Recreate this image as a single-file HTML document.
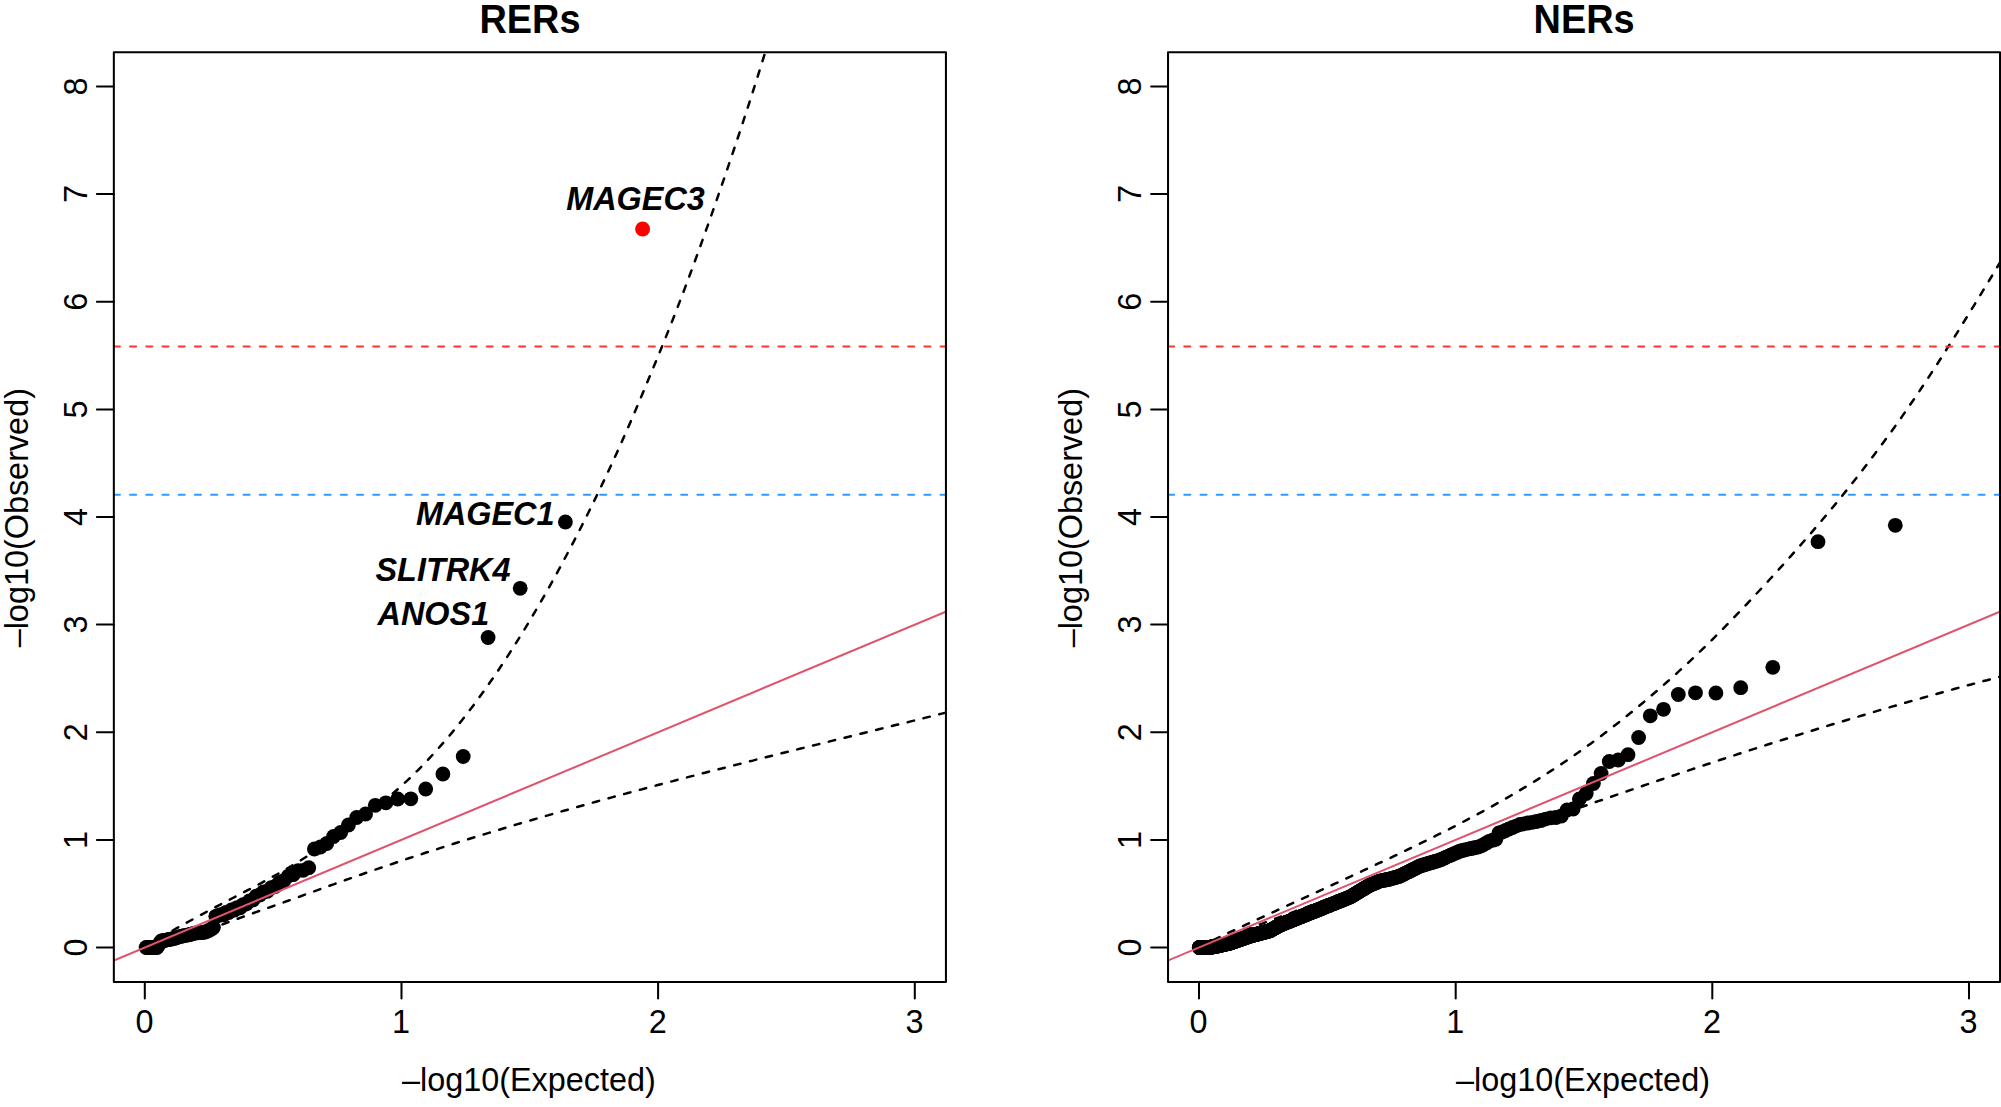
<!DOCTYPE html>
<html lang="en"><head><meta charset="utf-8"><title>QQ plots: RERs and NERs</title>
<style>html,body{margin:0;padding:0;background:#fff}svg{display:block}text{font-family:"Liberation Sans",sans-serif;fill:#000}.t{font-size:32.4px}.b{font-weight:bold;font-size:39.6px}.g{font-weight:bold;font-style:italic;font-size:32.4px}.ln{fill:none;stroke-width:2.03;stroke-linecap:round;stroke-linejoin:round}.d{stroke-dasharray:6.08 10.13}.c{stroke-width:2.5;stroke-dasharray:6.5 9.75}</style></head><body>
<svg width="2001" height="1107" viewBox="0 0 2001 1107">
<rect width="2001" height="1107" fill="#fff"/>
<defs>
<clipPath id="cL"><rect x="113.84" y="52.14" width="832.06" height="929.76"/></clipPath>
<clipPath id="cR"><rect x="1168.04" y="52.14" width="831.96" height="929.76"/></clipPath>
</defs>
<g clip-path="url(#cL)">
<g fill="#000">
<circle cx="565.4" cy="522" r="7.4"/>
<circle cx="520.2" cy="588.3" r="7.4"/>
<circle cx="488.1" cy="637.5" r="7.4"/>
<circle cx="463.2" cy="756.5" r="7.4"/>
<circle cx="442.9" cy="774" r="7.4"/>
<circle cx="425.7" cy="789" r="7.4"/>
<circle cx="410.8" cy="798.8" r="7.4"/>
<circle cx="397.7" cy="799" r="7.4"/>
<circle cx="385.9" cy="802.8" r="7.4"/>
<circle cx="375.3" cy="805.3" r="7.4"/>
<circle cx="365.6" cy="814" r="7.4"/>
<circle cx="356.7" cy="817.5" r="7.4"/>
<circle cx="348.4" cy="825" r="7.4"/>
<circle cx="340.7" cy="832.5" r="7.4"/>
<circle cx="333.6" cy="836.5" r="7.4"/>
<circle cx="326.8" cy="843.5" r="7.4"/>
<circle cx="320.4" cy="847" r="7.4"/>
<circle cx="314.4" cy="849" r="7.4"/>
<circle cx="308.7" cy="867.7" r="7.4"/>
<circle cx="303.2" cy="870.3" r="7.4"/>
<circle cx="298.1" cy="870.6" r="7.4"/>
<circle cx="293.1" cy="874.7" r="7.4"/>
<circle cx="288.4" cy="876.1" r="7.4"/>
<circle cx="283.8" cy="880.7" r="7.4"/>
<circle cx="279.4" cy="882.4" r="7.4"/>
<circle cx="275.2" cy="886.5" r="7.4"/>
<circle cx="271.2" cy="887.7" r="7.4"/>
<circle cx="267.3" cy="891.3" r="7.4"/>
<circle cx="263.5" cy="891.8" r="7.4"/>
<circle cx="259.8" cy="895" r="7.4"/>
<circle cx="256.3" cy="896.1" r="7.4"/>
<circle cx="252.9" cy="899.9" r="7.4"/>
<circle cx="249.5" cy="900.8" r="7.4"/>
<circle cx="246.3" cy="904.1" r="7.4"/>
<circle cx="243.2" cy="904.6" r="7.4"/>
<circle cx="240.1" cy="907.8" r="7.4"/>
<circle cx="237.1" cy="907.6" r="7.4"/>
<circle cx="234.2" cy="910.2" r="7.4"/>
<circle cx="231.4" cy="909.9" r="7.4"/>
<circle cx="228.7" cy="912.5" r="7.4"/>
<circle cx="226" cy="912.3" r="7.4"/>
<circle cx="223.4" cy="914.9" r="7.4"/>
<circle cx="220.8" cy="914.6" r="7.4"/>
<circle cx="218.3" cy="915.5" r="7.4"/>
<circle cx="215.8" cy="916.3" r="7.4"/>
<circle cx="213.4" cy="927.5" r="7.4"/>
<circle cx="211.1" cy="929.2" r="7.4"/>
<circle cx="208.8" cy="930.4" r="7.4"/>
<circle cx="206.5" cy="931.5" r="7.4"/>
<circle cx="204.3" cy="932.3" r="7.4"/>
<circle cx="202.2" cy="932.5" r="7.4"/>
<circle cx="200" cy="932.6" r="7.4"/>
<circle cx="198" cy="932.8" r="7.4"/>
<circle cx="195.9" cy="932.9" r="7.4"/>
<circle cx="193.9" cy="933.3" r="7.4"/>
<circle cx="191.9" cy="933.9" r="7.4"/>
<circle cx="190" cy="934.5" r="7.4"/>
<circle cx="188.1" cy="934.9" r="7.4"/>
<circle cx="186.2" cy="935.3" r="7.4"/>
<circle cx="184.4" cy="935.6" r="7.4"/>
<circle cx="182.6" cy="936" r="7.4"/>
<circle cx="180.8" cy="936.3" r="7.4"/>
<circle cx="179" cy="936.8" r="7.4"/>
<circle cx="177.3" cy="937.3" r="7.4"/>
<circle cx="175.6" cy="937.9" r="7.4"/>
<circle cx="173.9" cy="938.4" r="7.4"/>
<circle cx="172.3" cy="938.8" r="7.4"/>
<circle cx="170.6" cy="939.2" r="7.4"/>
<circle cx="169" cy="939.5" r="7.4"/>
<circle cx="167.5" cy="939.8" r="7.4"/>
<circle cx="165.9" cy="940.1" r="7.4"/>
<circle cx="164.4" cy="940.4" r="7.4"/>
<circle cx="162.8" cy="940.7" r="7.4"/>
<circle cx="161.3" cy="941" r="7.4"/>
<circle cx="159.9" cy="943" r="7.4"/>
<circle cx="158.4" cy="945.5" r="7.4"/>
<circle cx="157" cy="947.5" r="7.4"/>
<circle cx="155.6" cy="947.5" r="7.4"/>
<circle cx="154.2" cy="947.5" r="7.4"/>
<circle cx="152.8" cy="947.5" r="7.4"/>
<circle cx="151.4" cy="947.5" r="7.4"/>
<circle cx="150" cy="947.5" r="7.4"/>
<circle cx="148.7" cy="947.5" r="7.4"/>
<circle cx="147.4" cy="947.5" r="7.4"/>
<circle cx="146.1" cy="947.5" r="7.4"/>
</g>
<circle cx="642.6" cy="229" r="7.5" fill="#ff0000"/>
<path class="ln c" stroke="#000" d="M144.8 947.4 L148.8 944.9 L152.8 942.4 L156.8 940 L160.8 937.5 L164.8 935.2 L168.8 932.8 L172.8 930.5 L176.8 928.2 L180.8 925.9 L184.8 923.7 L188.8 921.5 L192.8 919.3 L196.8 917.1 L200.8 914.9 L204.8 912.8 L208.8 910.6 L212.8 908.5 L216.8 906.4 L220.8 904.3 L224.8 902.2 L228.8 900.1 L232.8 898 L236.8 895.9 L240.8 893.8 L244.8 891.7 L248.8 889.6 L252.8 887.5 L256.8 885.4 L260.8 883.3 L264.8 881.1 L268.8 878.9 L272.8 876.7 L276.8 874.5 L280.8 872.2 L284.8 869.9 L288.8 867.6 L292.8 865.2 L296.8 862.8 L300.8 860.3 L304.8 857.8 L308.8 855.2 L312.8 852.6 L316.8 849.9 L320.8 847.2 L324.8 844.5 L328.8 841.7 L332.8 838.9 L336.8 836 L340.8 833.1 L344.8 830.3 L348.8 827.4 L352.8 824.5 L356.8 821.5 L360.8 818.6 L364.8 815.6 L368.8 812.6 L372.8 809.6 L376.8 806.5 L380.8 803.4 L384.8 800.1 L388.8 796.9 L392.8 793.5 L396.8 790 L400.8 786.5 L404.8 782.8 L408.8 779.1 L412.8 775.3 L416.8 771.3 L420.8 767.3 L424.8 763.2 L428.8 758.9 L432.8 754.6 L436.8 750.2 L440.8 745.7 L444.8 741.1 L448.8 736.4 L452.8 731.6 L456.8 726.7 L460.8 721.7 L464.8 716.6 L468.8 711.4 L472.8 706.2 L476.8 700.8 L480.8 695.3 L484.8 689.8 L488.8 684.1 L492.8 678.3 L496.8 672.5 L500.8 666.5 L504.8 660.5 L508.8 654.4 L512.8 648.1 L516.8 641.8 L520.8 635.4 L524.8 628.9 L528.8 622.2 L532.8 615.5 L536.8 608.7 L540.8 601.8 L544.8 594.8 L548.8 587.8 L552.8 580.6 L556.8 573.3 L560.8 565.9 L564.8 558.5 L568.8 550.9 L572.8 543.3 L576.8 535.6 L580.8 527.7 L584.8 519.8 L588.8 511.8 L592.8 503.7 L596.8 495.5 L600.8 487.2 L604.8 478.8 L608.8 470.3 L612.8 461.6 L616.8 452.9 L620.8 444 L624.8 435 L628.8 425.9 L632.8 416.6 L636.8 407.2 L640.8 397.8 L644.8 388.2 L648.8 378.6 L652.8 368.9 L656.8 359.2 L660.8 349.5 L664.8 339.7 L668.8 329.7 L672.8 319.6 L676.8 309.3 L680.8 298.9 L684.8 288.4 L688.8 277.7 L692.8 266.9 L696.8 255.9 L700.8 244.9 L704.8 233.7 L708.8 222.5 L712.8 211.1 L716.8 199.6 L720.8 188.1 L724.8 176.4 L728.8 164.7 L732.8 152.8 L736.8 140.9 L740.8 128.8 L744.8 116.6 L748.8 104.3 L752.8 91.9 L756.8 79.3 L760.8 66.6 L764.8 53.7 L768.8 40.7"/>
<path class="ln c" stroke="#000" d="M144.8 947.8 L148.8 947.1 L152.8 946.2 L156.8 945.4 L160.8 944.4 L164.8 943.4 L168.8 942.4 L172.8 941.2 L176.8 940.1 L180.8 938.9 L184.8 937.6 L188.8 936.3 L192.8 935 L196.8 933.6 L200.8 932.2 L204.8 930.8 L208.8 929.4 L212.8 927.9 L216.8 926.5 L220.8 925 L224.8 923.5 L228.8 922 L232.8 920.5 L236.8 919.1 L240.8 917.6 L244.8 916.2 L248.8 914.7 L252.8 913.3 L256.8 911.9 L260.8 910.4 L264.8 909 L268.8 907.6 L272.8 906.2 L276.8 904.8 L280.8 903.4 L284.8 901.9 L288.8 900.5 L292.8 899.1 L296.8 897.6 L300.8 896.2 L304.8 894.7 L308.8 893.3 L312.8 891.8 L316.8 890.4 L320.8 888.9 L324.8 887.5 L328.8 886 L332.8 884.6 L336.8 883.2 L340.8 881.8 L344.8 880.3 L348.8 878.9 L352.8 877.5 L356.8 876.1 L360.8 874.7 L364.8 873.3 L368.8 871.9 L372.8 870.5 L376.8 869.1 L380.8 867.8 L384.8 866.4 L388.8 865 L392.8 863.7 L396.8 862.3 L400.8 861 L404.8 859.6 L408.8 858.3 L412.8 857 L416.8 855.7 L420.8 854.4 L424.8 853 L428.8 851.7 L432.8 850.4 L436.8 849.2 L440.8 847.9 L444.8 846.6 L448.8 845.3 L452.8 844 L456.8 842.8 L460.8 841.5 L464.8 840.3 L468.8 839 L472.8 837.8 L476.8 836.5 L480.8 835.3 L484.8 834.1 L488.8 832.9 L492.8 831.6 L496.8 830.4 L500.8 829.2 L504.8 828 L508.8 826.8 L512.8 825.6 L516.8 824.4 L520.8 823.2 L524.8 822.1 L528.8 820.9 L532.8 819.7 L536.8 818.5 L540.8 817.4 L544.8 816.2 L548.8 815.1 L552.8 813.9 L556.8 812.8 L560.8 811.6 L564.8 810.5 L568.8 809.4 L572.8 808.2 L576.8 807.1 L580.8 806 L584.8 804.9 L588.8 803.7 L592.8 802.6 L596.8 801.5 L600.8 800.4 L604.8 799.3 L608.8 798.2 L612.8 797.1 L616.8 796 L620.8 795 L624.8 793.9 L628.8 792.8 L632.8 791.7 L636.8 790.6 L640.8 789.6 L644.8 788.5 L648.8 787.4 L652.8 786.4 L656.8 785.3 L660.8 784.2 L664.8 783.2 L668.8 782.1 L672.8 781.1 L676.8 780 L680.8 779 L684.8 778 L688.8 776.9 L692.8 775.9 L696.8 774.8 L700.8 773.8 L704.8 772.8 L708.8 771.7 L712.8 770.7 L716.8 769.7 L720.8 768.7 L724.8 767.7 L728.8 766.6 L732.8 765.6 L736.8 764.6 L740.8 763.6 L744.8 762.6 L748.8 761.6 L752.8 760.6 L756.8 759.5 L760.8 758.5 L764.8 757.5 L768.8 756.5 L772.8 755.5 L776.8 754.5 L780.8 753.5 L784.8 752.5 L788.8 751.5 L792.8 750.5 L796.8 749.5 L800.8 748.5 L804.8 747.6 L808.8 746.6 L812.8 745.6 L816.8 744.6 L820.8 743.6 L824.8 742.6 L828.8 741.6 L832.8 740.6 L836.8 739.6 L840.8 738.6 L844.8 737.7 L848.8 736.7 L852.8 735.7 L856.8 734.7 L860.8 733.7 L864.8 732.7 L868.8 731.7 L872.8 730.7 L876.8 729.8 L880.8 728.8 L884.8 727.8 L888.8 726.8 L892.8 725.8 L896.8 724.8 L900.8 723.8 L904.8 722.9 L908.8 721.9 L912.8 720.9 L916.8 719.9 L920.8 718.9 L924.8 717.9 L928.8 716.9 L932.8 715.9 L936.8 714.9 L940.8 713.9 L944.8 712.9 L948.8 711.9 L952.8 710.9 L956.8 709.9"/>
<path class="ln d" stroke="#ff3626" d="M113.84 346.5 L945.9 346.5"/>
<path class="ln d" stroke="#2f9aff" d="M113.84 494.7 L945.9 494.7"/>
<path class="ln" stroke="#df536b" d="M108.8 962.6 L950.9 609.5"/>
</g>
<rect class="ln" stroke="#000" x="113.84" y="52.14" width="832.1" height="929.8"/>
<path class="ln" stroke="#000" d="M144.8 981.9 V998.6 M401.5 981.9 V998.6 M658.1 981.9 V998.6 M914.8 981.9 V998.6 M113.84 947.5 H96.9 M113.84 839.9 H96.9 M113.84 732.2 H96.9 M113.84 624.6 H96.9 M113.84 517 H96.9 M113.84 409.4 H96.9 M113.84 301.8 H96.9 M113.84 194.1 H96.9 M113.84 86.5 H96.9"/>
<text class="t" text-anchor="middle" x="144.4" y="1032.9">0</text>
<text class="t" text-anchor="middle" x="401.1" y="1032.9">1</text>
<text class="t" text-anchor="middle" x="657.7" y="1032.9">2</text>
<text class="t" text-anchor="middle" x="914.4" y="1032.9">3</text>
<text class="t" text-anchor="middle" transform="translate(87 947.5) rotate(-90)">0</text>
<text class="t" text-anchor="middle" transform="translate(87 839.9) rotate(-90)">1</text>
<text class="t" text-anchor="middle" transform="translate(87 732.2) rotate(-90)">2</text>
<text class="t" text-anchor="middle" transform="translate(87 624.6) rotate(-90)">3</text>
<text class="t" text-anchor="middle" transform="translate(87 517) rotate(-90)">4</text>
<text class="t" text-anchor="middle" transform="translate(87 409.4) rotate(-90)">5</text>
<text class="t" text-anchor="middle" transform="translate(87 301.8) rotate(-90)">6</text>
<text class="t" text-anchor="middle" transform="translate(87 194.1) rotate(-90)">7</text>
<text class="t" text-anchor="middle" transform="translate(87 86.5) rotate(-90)">8</text>
<text class="t" text-anchor="middle" x="528.9" y="1091.2">–log10(Expected)</text>
<text class="t" text-anchor="middle" transform="translate(27.9 517.7) rotate(-90)">–log10(Observed)</text>
<text class="b" text-anchor="middle" transform="translate(530 32.7) scale(0.957 1.025)">RERs</text>
<text class="g" text-anchor="middle" x="635.5" y="210">MAGEC3</text>
<text class="g" text-anchor="end" x="554.5" y="525.2">MAGEC1</text>
<text class="g" text-anchor="end" x="510.5" y="580.6">SLITRK4</text>
<text class="g" text-anchor="end" x="489.2" y="625">ANOS1</text>
<g clip-path="url(#cR)">
<g fill="#000">
<circle cx="1895.3" cy="525.3" r="7.4"/>
<circle cx="1818" cy="541.7" r="7.4"/>
<circle cx="1772.8" cy="667.3" r="7.4"/>
<circle cx="1740.7" cy="687.7" r="7.4"/>
<circle cx="1715.9" cy="693" r="7.4"/>
<circle cx="1695.5" cy="692.8" r="7.4"/>
<circle cx="1678.3" cy="694.5" r="7.4"/>
<circle cx="1663.5" cy="709.3" r="7.4"/>
<circle cx="1650.3" cy="715.8" r="7.4"/>
<circle cx="1638.6" cy="737.5" r="7.4"/>
<circle cx="1628" cy="754.7" r="7.4"/>
<circle cx="1618.3" cy="760" r="7.4"/>
<circle cx="1609.3" cy="761.5" r="7.4"/>
<circle cx="1601.1" cy="773.5" r="7.4"/>
<circle cx="1593.4" cy="783.5" r="7.4"/>
<circle cx="1586.2" cy="793.5" r="7.4"/>
<circle cx="1579.4" cy="799" r="7.4"/>
<circle cx="1573.1" cy="809" r="7.4"/>
<circle cx="1567" cy="810" r="7.4"/>
<circle cx="1561.3" cy="816" r="7.4"/>
<circle cx="1555.9" cy="817.5" r="7.4"/>
<circle cx="1550.7" cy="817.8" r="7.4"/>
<circle cx="1545.7" cy="819.1" r="7.4"/>
<circle cx="1541" cy="820.5" r="7.4"/>
<circle cx="1536.4" cy="821.5" r="7.4"/>
<circle cx="1532.1" cy="822.3" r="7.4"/>
<circle cx="1527.9" cy="823" r="7.4"/>
<circle cx="1523.8" cy="823.8" r="7.4"/>
<circle cx="1519.9" cy="824.5" r="7.4"/>
<circle cx="1516.1" cy="826.1" r="7.4"/>
<circle cx="1512.5" cy="827.5" r="7.4"/>
<circle cx="1508.9" cy="829" r="7.4"/>
<circle cx="1505.5" cy="830.5" r="7.4"/>
<circle cx="1502.2" cy="832" r="7.4"/>
<circle cx="1498.9" cy="833" r="7.4"/>
<circle cx="1495.8" cy="839.3" r="7.4"/>
<circle cx="1492.7" cy="840.2" r="7.4"/>
<circle cx="1489.8" cy="841.1" r="7.4"/>
<circle cx="1486.9" cy="842.7" r="7.4"/>
<circle cx="1484.1" cy="844.3" r="7.4"/>
<circle cx="1481.3" cy="845.8" r="7.4"/>
<circle cx="1478.6" cy="846.8" r="7.4"/>
<circle cx="1476" cy="847.4" r="7.4"/>
<circle cx="1473.4" cy="848" r="7.4"/>
<circle cx="1470.9" cy="848.5" r="7.4"/>
<circle cx="1468.5" cy="849.1" r="7.4"/>
<circle cx="1466.1" cy="849.6" r="7.4"/>
<circle cx="1463.7" cy="850.2" r="7.4"/>
<circle cx="1461.4" cy="850.7" r="7.4"/>
<circle cx="1459.2" cy="851.4" r="7.4"/>
<circle cx="1457" cy="852.4" r="7.4"/>
<circle cx="1454.8" cy="853.3" r="7.4"/>
<circle cx="1452.7" cy="854.3" r="7.4"/>
<circle cx="1450.6" cy="855.2" r="7.4"/>
<circle cx="1448.6" cy="856.1" r="7.4"/>
<circle cx="1446.5" cy="857.1" r="7.4"/>
<circle cx="1444.6" cy="857.9" r="7.4"/>
<circle cx="1442.6" cy="858.8" r="7.4"/>
<circle cx="1440.7" cy="859.7" r="7.4"/>
<circle cx="1438.9" cy="860.3" r="7.4"/>
<circle cx="1437" cy="860.9" r="7.4"/>
<circle cx="1435.2" cy="861.4" r="7.4"/>
<circle cx="1433.4" cy="862" r="7.4"/>
<circle cx="1431.7" cy="862.5" r="7.4"/>
<circle cx="1429.9" cy="863" r="7.4"/>
<circle cx="1428.2" cy="863.5" r="7.4"/>
<circle cx="1426.6" cy="864" r="7.4"/>
<circle cx="1424.9" cy="864.5" r="7.4"/>
<circle cx="1423.3" cy="865" r="7.4"/>
<circle cx="1421.7" cy="865.5" r="7.4"/>
<circle cx="1420.1" cy="866" r="7.4"/>
<circle cx="1418.5" cy="866.7" r="7.4"/>
<circle cx="1417" cy="867.5" r="7.4"/>
<circle cx="1415.5" cy="868.3" r="7.4"/>
<circle cx="1414" cy="869" r="7.4"/>
<circle cx="1412.5" cy="869.7" r="7.4"/>
<circle cx="1411.1" cy="870.5" r="7.4"/>
<circle cx="1409.6" cy="871.2" r="7.4"/>
<circle cx="1408.2" cy="871.9" r="7.4"/>
<circle cx="1406.8" cy="872.6" r="7.4"/>
<circle cx="1405.4" cy="873.3" r="7.4"/>
<circle cx="1404" cy="874" r="7.4"/>
<circle cx="1402.7" cy="874.7" r="7.4"/>
<circle cx="1401.4" cy="875.3" r="7.4"/>
<circle cx="1400" cy="876" r="7.4"/>
<circle cx="1398.7" cy="876.4" r="7.4"/>
<circle cx="1397.4" cy="876.8" r="7.4"/>
<circle cx="1396.2" cy="877.2" r="7.4"/>
<circle cx="1394.9" cy="877.5" r="7.4"/>
<circle cx="1393.7" cy="877.9" r="7.4"/>
<circle cx="1392.4" cy="878.3" r="7.4"/>
<circle cx="1391.2" cy="878.6" r="7.4"/>
<circle cx="1390" cy="879" r="7.4"/>
<circle cx="1388.8" cy="879.2" r="7.4"/>
<circle cx="1387.6" cy="879.5" r="7.4"/>
<circle cx="1386.5" cy="879.7" r="7.4"/>
<circle cx="1385.3" cy="879.9" r="7.4"/>
<circle cx="1384.2" cy="880.2" r="7.4"/>
<circle cx="1383" cy="880.4" r="7.4"/>
<circle cx="1381.9" cy="880.6" r="7.4"/>
<circle cx="1380.8" cy="880.8" r="7.4"/>
<circle cx="1379.7" cy="881.1" r="7.4"/>
<circle cx="1378.6" cy="881.6" r="7.4"/>
<circle cx="1377.5" cy="882" r="7.4"/>
<circle cx="1376.5" cy="882.4" r="7.4"/>
<circle cx="1375.4" cy="882.8" r="7.4"/>
<circle cx="1374.4" cy="883.3" r="7.4"/>
<circle cx="1373.3" cy="883.7" r="7.4"/>
<circle cx="1372.3" cy="884.1" r="7.4"/>
<circle cx="1371.3" cy="884.5" r="7.4"/>
<circle cx="1370.3" cy="884.9" r="7.4"/>
<circle cx="1369.3" cy="885.4" r="7.4"/>
<circle cx="1368.3" cy="886" r="7.4"/>
<circle cx="1367.3" cy="886.6" r="7.4"/>
<circle cx="1366.3" cy="887.2" r="7.4"/>
<circle cx="1365.4" cy="887.8" r="7.4"/>
<circle cx="1364.4" cy="888.4" r="7.4"/>
<circle cx="1363.5" cy="888.9" r="7.4"/>
<circle cx="1362.5" cy="889.5" r="7.4"/>
<circle cx="1361.6" cy="890" r="7.4"/>
<circle cx="1360.7" cy="890.6" r="7.4"/>
<circle cx="1359.7" cy="891.2" r="7.4"/>
<circle cx="1358.8" cy="891.7" r="7.4"/>
<circle cx="1357.9" cy="892.2" r="7.4"/>
<circle cx="1357" cy="892.8" r="7.4"/>
<circle cx="1356.2" cy="893.3" r="7.4"/>
<circle cx="1355.3" cy="893.8" r="7.4"/>
<circle cx="1354.4" cy="894.4" r="7.4"/>
<circle cx="1353.5" cy="894.9" r="7.4"/>
<circle cx="1352.7" cy="895.4" r="7.4"/>
<circle cx="1351.8" cy="895.9" r="7.4"/>
<circle cx="1351" cy="896.4" r="7.4"/>
<circle cx="1350.1" cy="896.9" r="7.4"/>
<circle cx="1349.3" cy="897.3" r="7.4"/>
<circle cx="1348.5" cy="897.6" r="7.4"/>
<circle cx="1347.6" cy="897.9" r="7.4"/>
<circle cx="1346.8" cy="898.3" r="7.4"/>
<circle cx="1346" cy="898.6" r="7.4"/>
<circle cx="1345.2" cy="898.9" r="7.4"/>
<circle cx="1344.4" cy="899.2" r="7.4"/>
<circle cx="1343.6" cy="899.6" r="7.4"/>
<circle cx="1342.8" cy="899.9" r="7.4"/>
<circle cx="1342" cy="900.2" r="7.4"/>
<circle cx="1341.3" cy="900.5" r="7.4"/>
<circle cx="1340.5" cy="900.8" r="7.4"/>
<circle cx="1339.7" cy="901.1" r="7.4"/>
<circle cx="1339" cy="901.4" r="7.4"/>
<circle cx="1338.2" cy="901.7" r="7.4"/>
<circle cx="1337.5" cy="902" r="7.4"/>
<circle cx="1336.7" cy="902.3" r="7.4"/>
<circle cx="1336" cy="902.6" r="7.4"/>
<circle cx="1335.2" cy="902.9" r="7.4"/>
<circle cx="1334.5" cy="903.2" r="7.4"/>
<circle cx="1333.8" cy="903.5" r="7.4"/>
<circle cx="1333.1" cy="903.8" r="7.4"/>
<circle cx="1332.3" cy="904.1" r="7.4"/>
<circle cx="1331.6" cy="904.3" r="7.4"/>
<circle cx="1330.9" cy="904.6" r="7.4"/>
<circle cx="1330.2" cy="904.9" r="7.4"/>
<circle cx="1329.5" cy="905.2" r="7.4"/>
<circle cx="1328.8" cy="905.5" r="7.4"/>
<circle cx="1328.1" cy="905.7" r="7.4"/>
<circle cx="1327.5" cy="906" r="7.4"/>
<circle cx="1326.8" cy="906.3" r="7.4"/>
<circle cx="1326.1" cy="906.6" r="7.4"/>
<circle cx="1325.4" cy="906.8" r="7.4"/>
<circle cx="1324.8" cy="907.1" r="7.4"/>
<circle cx="1324.1" cy="907.4" r="7.4"/>
<circle cx="1323.4" cy="907.6" r="7.4"/>
<circle cx="1322.8" cy="907.9" r="7.4"/>
<circle cx="1322.1" cy="908.2" r="7.4"/>
<circle cx="1321.5" cy="908.4" r="7.4"/>
<circle cx="1320.8" cy="908.7" r="7.4"/>
<circle cx="1320.2" cy="908.9" r="7.4"/>
<circle cx="1319.5" cy="909.2" r="7.4"/>
<circle cx="1318.9" cy="909.4" r="7.4"/>
<circle cx="1318.3" cy="909.7" r="7.4"/>
<circle cx="1317.6" cy="909.9" r="7.4"/>
<circle cx="1317" cy="910.2" r="7.4"/>
<circle cx="1316.4" cy="910.4" r="7.4"/>
<circle cx="1315.8" cy="910.7" r="7.4"/>
<circle cx="1315.2" cy="910.9" r="7.4"/>
<circle cx="1314.6" cy="911.2" r="7.4"/>
<circle cx="1313.9" cy="911.4" r="7.4"/>
<circle cx="1313.3" cy="911.7" r="7.4"/>
<circle cx="1312.7" cy="911.9" r="7.4"/>
<circle cx="1312.1" cy="912.1" r="7.4"/>
<circle cx="1311.5" cy="912.4" r="7.4"/>
<circle cx="1311" cy="912.6" r="7.4"/>
<circle cx="1310.4" cy="912.9" r="7.4"/>
<circle cx="1309.8" cy="913.1" r="7.4"/>
<circle cx="1309.2" cy="913.3" r="7.4"/>
<circle cx="1308.6" cy="913.6" r="7.4"/>
<circle cx="1308" cy="913.8" r="7.4"/>
<circle cx="1307.5" cy="914" r="7.4"/>
<circle cx="1306.9" cy="914.2" r="7.4"/>
<circle cx="1306.3" cy="914.5" r="7.4"/>
<circle cx="1305.8" cy="914.7" r="7.4"/>
<circle cx="1305.2" cy="914.9" r="7.4"/>
<circle cx="1304.7" cy="915.1" r="7.4"/>
<circle cx="1304.1" cy="915.4" r="7.4"/>
<circle cx="1303.5" cy="915.6" r="7.4"/>
<circle cx="1303" cy="915.8" r="7.4"/>
<circle cx="1302.4" cy="916" r="7.4"/>
<circle cx="1301.9" cy="916.2" r="7.4"/>
<circle cx="1301.4" cy="916.5" r="7.4"/>
<circle cx="1300.8" cy="916.7" r="7.4"/>
<circle cx="1300.3" cy="916.9" r="7.4"/>
<circle cx="1299.7" cy="917.1" r="7.4"/>
<circle cx="1299.2" cy="917.3" r="7.4"/>
<circle cx="1298.7" cy="917.5" r="7.4"/>
<circle cx="1298.2" cy="917.7" r="7.4"/>
<circle cx="1297.6" cy="917.9" r="7.4"/>
<circle cx="1297.1" cy="918.2" r="7.4"/>
<circle cx="1296.6" cy="918.4" r="7.4"/>
<circle cx="1296.1" cy="918.6" r="7.4"/>
<circle cx="1295.6" cy="918.8" r="7.4"/>
<circle cx="1295" cy="919" r="7.4"/>
<circle cx="1294.5" cy="919.2" r="7.4"/>
<circle cx="1294" cy="919.4" r="7.4"/>
<circle cx="1293.5" cy="919.6" r="7.4"/>
<circle cx="1293" cy="919.8" r="7.4"/>
<circle cx="1292.5" cy="920" r="7.4"/>
<circle cx="1292" cy="920.2" r="7.4"/>
<circle cx="1291.5" cy="920.4" r="7.4"/>
<circle cx="1291" cy="920.6" r="7.4"/>
<circle cx="1290.5" cy="920.8" r="7.4"/>
<circle cx="1290" cy="921" r="7.4"/>
<circle cx="1289.6" cy="921.2" r="7.4"/>
<circle cx="1289.1" cy="921.4" r="7.4"/>
<circle cx="1288.6" cy="921.6" r="7.4"/>
<circle cx="1288.1" cy="921.8" r="7.4"/>
<circle cx="1287.6" cy="921.9" r="7.4"/>
<circle cx="1287.1" cy="922.1" r="7.4"/>
<circle cx="1286.7" cy="922.3" r="7.4"/>
<circle cx="1286.2" cy="922.5" r="7.4"/>
<circle cx="1285.7" cy="922.7" r="7.4"/>
<circle cx="1285.3" cy="922.9" r="7.4"/>
<circle cx="1284.8" cy="923.1" r="7.4"/>
<circle cx="1284.3" cy="923.3" r="7.4"/>
<circle cx="1283.9" cy="923.5" r="7.4"/>
<circle cx="1283.4" cy="923.6" r="7.4"/>
<circle cx="1282.9" cy="923.8" r="7.4"/>
<circle cx="1282.5" cy="924" r="7.4"/>
<circle cx="1282" cy="924.2" r="7.4"/>
<circle cx="1281.6" cy="924.4" r="7.4"/>
<circle cx="1281.1" cy="924.6" r="7.4"/>
<circle cx="1280.7" cy="924.7" r="7.4"/>
<circle cx="1280.2" cy="924.9" r="7.4"/>
<circle cx="1279.8" cy="925.1" r="7.4"/>
<circle cx="1279.3" cy="925.4" r="7.4"/>
<circle cx="1278.9" cy="925.6" r="7.4"/>
<circle cx="1278.4" cy="925.9" r="7.4"/>
<circle cx="1278" cy="926.1" r="7.4"/>
<circle cx="1277.6" cy="926.4" r="7.4"/>
<circle cx="1277.1" cy="926.6" r="7.4"/>
<circle cx="1276.7" cy="926.9" r="7.4"/>
<circle cx="1276.3" cy="927.1" r="7.4"/>
<circle cx="1275.8" cy="927.4" r="7.4"/>
<circle cx="1275.4" cy="927.6" r="7.4"/>
<circle cx="1275" cy="927.9" r="7.4"/>
<circle cx="1274.6" cy="928.1" r="7.4"/>
<circle cx="1274.1" cy="928.3" r="7.4"/>
<circle cx="1273.7" cy="928.6" r="7.4"/>
<circle cx="1273.3" cy="928.8" r="7.4"/>
<circle cx="1272.9" cy="929.1" r="7.4"/>
<circle cx="1272.4" cy="929.3" r="7.4"/>
<circle cx="1272" cy="929.5" r="7.4"/>
<circle cx="1271.6" cy="929.8" r="7.4"/>
<circle cx="1271.2" cy="930" r="7.4"/>
<circle cx="1270.8" cy="930.3" r="7.4"/>
<circle cx="1270.4" cy="930.5" r="7.4"/>
<circle cx="1270" cy="930.7" r="7.4"/>
<circle cx="1269.6" cy="930.8" r="7.4"/>
<circle cx="1269.2" cy="930.9" r="7.4"/>
<circle cx="1268.7" cy="931" r="7.4"/>
<circle cx="1268.3" cy="931.1" r="7.4"/>
<circle cx="1267.9" cy="931.2" r="7.4"/>
<circle cx="1267.5" cy="931.4" r="7.4"/>
<circle cx="1267.1" cy="931.5" r="7.4"/>
<circle cx="1266.7" cy="931.6" r="7.4"/>
<circle cx="1266.4" cy="931.7" r="7.4"/>
<circle cx="1266" cy="931.8" r="7.4"/>
<circle cx="1265.6" cy="931.9" r="7.4"/>
<circle cx="1265.2" cy="932" r="7.4"/>
<circle cx="1264.8" cy="932.1" r="7.4"/>
<circle cx="1264.4" cy="932.2" r="7.4"/>
<circle cx="1264" cy="932.3" r="7.4"/>
<circle cx="1263.6" cy="932.4" r="7.4"/>
<circle cx="1263.2" cy="932.5" r="7.4"/>
<circle cx="1262.8" cy="932.6" r="7.4"/>
<circle cx="1262.5" cy="932.7" r="7.4"/>
<circle cx="1262.1" cy="932.8" r="7.4"/>
<circle cx="1261.7" cy="932.9" r="7.4"/>
<circle cx="1261.3" cy="933" r="7.4"/>
<circle cx="1260.9" cy="933.1" r="7.4"/>
<circle cx="1260.6" cy="933.2" r="7.4"/>
<circle cx="1260.2" cy="933.3" r="7.4"/>
<circle cx="1259.8" cy="933.4" r="7.4"/>
<circle cx="1259.5" cy="933.5" r="7.4"/>
<circle cx="1259.1" cy="933.6" r="7.4"/>
<circle cx="1258.7" cy="933.7" r="7.4"/>
<circle cx="1258.3" cy="933.8" r="7.4"/>
<circle cx="1258" cy="933.9" r="7.4"/>
<circle cx="1257.6" cy="934" r="7.4"/>
<circle cx="1257.2" cy="934.1" r="7.4"/>
<circle cx="1256.9" cy="934.2" r="7.4"/>
<circle cx="1256.5" cy="934.3" r="7.4"/>
<circle cx="1256.2" cy="934.4" r="7.4"/>
<circle cx="1255.8" cy="934.5" r="7.4"/>
<circle cx="1255.4" cy="934.6" r="7.4"/>
<circle cx="1255.1" cy="934.7" r="7.4"/>
<circle cx="1254.7" cy="934.7" r="7.4"/>
<circle cx="1254.4" cy="934.8" r="7.4"/>
<circle cx="1254" cy="934.9" r="7.4"/>
<circle cx="1253.7" cy="935" r="7.4"/>
<circle cx="1253.3" cy="935.1" r="7.4"/>
<circle cx="1253" cy="935.2" r="7.4"/>
<circle cx="1252.6" cy="935.3" r="7.4"/>
<circle cx="1252.3" cy="935.4" r="7.4"/>
<circle cx="1251.9" cy="935.5" r="7.4"/>
<circle cx="1251.6" cy="935.6" r="7.4"/>
<circle cx="1251.2" cy="935.7" r="7.4"/>
<circle cx="1250.9" cy="935.8" r="7.4"/>
<circle cx="1250.5" cy="935.9" r="7.4"/>
<circle cx="1250.2" cy="936" r="7.4"/>
<circle cx="1249.8" cy="936.1" r="7.4"/>
<circle cx="1249.5" cy="936.2" r="7.4"/>
<circle cx="1249.2" cy="936.3" r="7.4"/>
<circle cx="1248.8" cy="936.4" r="7.4"/>
<circle cx="1248.5" cy="936.5" r="7.4"/>
<circle cx="1248.2" cy="936.6" r="7.4"/>
<circle cx="1247.8" cy="936.8" r="7.4"/>
<circle cx="1247.5" cy="936.9" r="7.4"/>
<circle cx="1247.2" cy="937" r="7.4"/>
<circle cx="1246.8" cy="937.1" r="7.4"/>
<circle cx="1246.5" cy="937.2" r="7.4"/>
<circle cx="1246.2" cy="937.3" r="7.4"/>
<circle cx="1245.8" cy="937.5" r="7.4"/>
<circle cx="1245.5" cy="937.6" r="7.4"/>
<circle cx="1245.2" cy="937.7" r="7.4"/>
<circle cx="1244.8" cy="937.8" r="7.4"/>
<circle cx="1244.5" cy="937.9" r="7.4"/>
<circle cx="1244.2" cy="938" r="7.4"/>
<circle cx="1243.9" cy="938.1" r="7.4"/>
<circle cx="1243.6" cy="938.3" r="7.4"/>
<circle cx="1243.2" cy="938.4" r="7.4"/>
<circle cx="1242.9" cy="938.5" r="7.4"/>
<circle cx="1242.6" cy="938.6" r="7.4"/>
<circle cx="1242.3" cy="938.7" r="7.4"/>
<circle cx="1242" cy="938.8" r="7.4"/>
<circle cx="1241.6" cy="938.9" r="7.4"/>
<circle cx="1241.3" cy="939" r="7.4"/>
<circle cx="1241" cy="939.1" r="7.4"/>
<circle cx="1240.7" cy="939.3" r="7.4"/>
<circle cx="1240.4" cy="939.4" r="7.4"/>
<circle cx="1240.1" cy="939.5" r="7.4"/>
<circle cx="1239.8" cy="939.6" r="7.4"/>
<circle cx="1239.4" cy="939.7" r="7.4"/>
<circle cx="1239.1" cy="939.8" r="7.4"/>
<circle cx="1238.8" cy="939.9" r="7.4"/>
<circle cx="1238.5" cy="940" r="7.4"/>
<circle cx="1238.2" cy="940.1" r="7.4"/>
<circle cx="1237.9" cy="940.2" r="7.4"/>
<circle cx="1237.6" cy="940.3" r="7.4"/>
<circle cx="1237.3" cy="940.4" r="7.4"/>
<circle cx="1237" cy="940.6" r="7.4"/>
<circle cx="1236.7" cy="940.7" r="7.4"/>
<circle cx="1236.4" cy="940.8" r="7.4"/>
<circle cx="1236.1" cy="940.9" r="7.4"/>
<circle cx="1235.8" cy="941" r="7.4"/>
<circle cx="1235.5" cy="941.1" r="7.4"/>
<circle cx="1235.2" cy="941.2" r="7.4"/>
<circle cx="1234.9" cy="941.3" r="7.4"/>
<circle cx="1234.6" cy="941.4" r="7.4"/>
<circle cx="1234.3" cy="941.5" r="7.4"/>
<circle cx="1234" cy="941.6" r="7.4"/>
<circle cx="1233.7" cy="941.7" r="7.4"/>
<circle cx="1233.4" cy="941.8" r="7.4"/>
<circle cx="1233.1" cy="941.9" r="7.4"/>
<circle cx="1232.8" cy="942" r="7.4"/>
<circle cx="1232.5" cy="942.1" r="7.4"/>
<circle cx="1232.2" cy="942.2" r="7.4"/>
<circle cx="1231.9" cy="942.3" r="7.4"/>
<circle cx="1231.6" cy="942.4" r="7.4"/>
<circle cx="1231.4" cy="942.5" r="7.4"/>
<circle cx="1231.1" cy="942.6" r="7.4"/>
<circle cx="1230.8" cy="942.7" r="7.4"/>
<circle cx="1230.5" cy="942.8" r="7.4"/>
<circle cx="1230.2" cy="942.9" r="7.4"/>
<circle cx="1229.9" cy="943" r="7.4"/>
<circle cx="1229.6" cy="943.1" r="7.4"/>
<circle cx="1229.4" cy="943.2" r="7.4"/>
<circle cx="1229.1" cy="943.2" r="7.4"/>
<circle cx="1228.8" cy="943.3" r="7.4"/>
<circle cx="1228.5" cy="943.3" r="7.4"/>
<circle cx="1228.2" cy="943.4" r="7.4"/>
<circle cx="1227.9" cy="943.5" r="7.4"/>
<circle cx="1227.7" cy="943.5" r="7.4"/>
<circle cx="1227.4" cy="943.6" r="7.4"/>
<circle cx="1227.1" cy="943.7" r="7.4"/>
<circle cx="1226.8" cy="943.7" r="7.4"/>
<circle cx="1226.6" cy="943.8" r="7.4"/>
<circle cx="1226.3" cy="943.9" r="7.4"/>
<circle cx="1226" cy="943.9" r="7.4"/>
<circle cx="1225.7" cy="944" r="7.4"/>
<circle cx="1225.5" cy="944.1" r="7.4"/>
<circle cx="1225.2" cy="944.1" r="7.4"/>
<circle cx="1224.9" cy="944.2" r="7.4"/>
<circle cx="1224.6" cy="944.3" r="7.4"/>
<circle cx="1224.4" cy="944.3" r="7.4"/>
<circle cx="1224.1" cy="944.4" r="7.4"/>
<circle cx="1223.8" cy="944.4" r="7.4"/>
<circle cx="1223.6" cy="944.5" r="7.4"/>
<circle cx="1223.3" cy="944.6" r="7.4"/>
<circle cx="1223" cy="944.6" r="7.4"/>
<circle cx="1222.7" cy="944.7" r="7.4"/>
<circle cx="1222.5" cy="944.8" r="7.4"/>
<circle cx="1222.2" cy="944.8" r="7.4"/>
<circle cx="1221.9" cy="944.9" r="7.4"/>
<circle cx="1221.7" cy="944.9" r="7.4"/>
<circle cx="1221.4" cy="945" r="7.4"/>
<circle cx="1221.2" cy="945.1" r="7.4"/>
<circle cx="1220.9" cy="945.1" r="7.4"/>
<circle cx="1220.6" cy="945.2" r="7.4"/>
<circle cx="1220.4" cy="945.2" r="7.4"/>
<circle cx="1220.1" cy="945.3" r="7.4"/>
<circle cx="1219.8" cy="945.4" r="7.4"/>
<circle cx="1219.6" cy="945.4" r="7.4"/>
<circle cx="1219.3" cy="945.5" r="7.4"/>
<circle cx="1219.1" cy="945.6" r="7.4"/>
<circle cx="1218.8" cy="945.6" r="7.4"/>
<circle cx="1218.5" cy="945.7" r="7.4"/>
<circle cx="1218.3" cy="945.7" r="7.4"/>
<circle cx="1218" cy="945.8" r="7.4"/>
<circle cx="1217.8" cy="945.9" r="7.4"/>
<circle cx="1217.5" cy="945.9" r="7.4"/>
<circle cx="1217.3" cy="946" r="7.4"/>
<circle cx="1217" cy="946" r="7.4"/>
<circle cx="1216.8" cy="946.1" r="7.4"/>
<circle cx="1216.5" cy="946.1" r="7.4"/>
<circle cx="1216.3" cy="946.2" r="7.4"/>
<circle cx="1216" cy="946.3" r="7.4"/>
<circle cx="1215.8" cy="946.3" r="7.4"/>
<circle cx="1215.5" cy="946.4" r="7.4"/>
<circle cx="1215.3" cy="946.4" r="7.4"/>
<circle cx="1215" cy="946.5" r="7.4"/>
<circle cx="1214.8" cy="946.5" r="7.4"/>
<circle cx="1214.5" cy="946.6" r="7.4"/>
<circle cx="1214.3" cy="946.6" r="7.4"/>
<circle cx="1214" cy="946.6" r="7.4"/>
<circle cx="1213.8" cy="946.7" r="7.4"/>
<circle cx="1213.5" cy="946.7" r="7.4"/>
<circle cx="1213.3" cy="946.7" r="7.4"/>
<circle cx="1213" cy="946.8" r="7.4"/>
<circle cx="1212.8" cy="946.8" r="7.4"/>
<circle cx="1212.5" cy="946.9" r="7.4"/>
<circle cx="1212.3" cy="946.9" r="7.4"/>
<circle cx="1212" cy="946.9" r="7.4"/>
<circle cx="1211.8" cy="947" r="7.4"/>
<circle cx="1211.6" cy="947" r="7.4"/>
<circle cx="1211.3" cy="947" r="7.4"/>
<circle cx="1211.1" cy="947.1" r="7.4"/>
<circle cx="1210.8" cy="947.1" r="7.4"/>
<circle cx="1210.6" cy="947.1" r="7.4"/>
<circle cx="1210.4" cy="947.2" r="7.4"/>
<circle cx="1210.1" cy="947.2" r="7.4"/>
<circle cx="1209.9" cy="947.2" r="7.4"/>
<circle cx="1209.6" cy="947.3" r="7.4"/>
<circle cx="1209.4" cy="947.3" r="7.4"/>
<circle cx="1209.2" cy="947.3" r="7.4"/>
<circle cx="1208.9" cy="947.4" r="7.4"/>
<circle cx="1208.7" cy="947.4" r="7.4"/>
<circle cx="1208.5" cy="947.4" r="7.4"/>
<circle cx="1208.2" cy="947.5" r="7.4"/>
<circle cx="1208" cy="947.5" r="7.4"/>
<circle cx="1207.8" cy="947.5" r="7.4"/>
<circle cx="1207.5" cy="947.5" r="7.4"/>
<circle cx="1207.3" cy="947.5" r="7.4"/>
<circle cx="1207.1" cy="947.5" r="7.4"/>
<circle cx="1206.8" cy="947.5" r="7.4"/>
<circle cx="1206.6" cy="947.5" r="7.4"/>
<circle cx="1206.4" cy="947.5" r="7.4"/>
<circle cx="1206.1" cy="947.5" r="7.4"/>
<circle cx="1205.9" cy="947.5" r="7.4"/>
<circle cx="1205.7" cy="947.5" r="7.4"/>
<circle cx="1205.4" cy="947.5" r="7.4"/>
<circle cx="1205.2" cy="947.5" r="7.4"/>
<circle cx="1205" cy="947.5" r="7.4"/>
<circle cx="1204.8" cy="947.5" r="7.4"/>
<circle cx="1204.5" cy="947.5" r="7.4"/>
<circle cx="1204.3" cy="947.5" r="7.4"/>
<circle cx="1204.1" cy="947.5" r="7.4"/>
<circle cx="1203.9" cy="947.5" r="7.4"/>
<circle cx="1203.6" cy="947.5" r="7.4"/>
<circle cx="1203.4" cy="947.5" r="7.4"/>
<circle cx="1203.2" cy="947.5" r="7.4"/>
<circle cx="1203" cy="947.5" r="7.4"/>
<circle cx="1202.7" cy="947.5" r="7.4"/>
<circle cx="1202.5" cy="947.5" r="7.4"/>
<circle cx="1202.3" cy="947.5" r="7.4"/>
<circle cx="1202.1" cy="947.5" r="7.4"/>
<circle cx="1201.8" cy="947.5" r="7.4"/>
<circle cx="1201.6" cy="947.5" r="7.4"/>
<circle cx="1201.4" cy="947.5" r="7.4"/>
<circle cx="1201.2" cy="947.5" r="7.4"/>
<circle cx="1201" cy="947.5" r="7.4"/>
<circle cx="1200.7" cy="947.5" r="7.4"/>
<circle cx="1200.5" cy="947.5" r="7.4"/>
<circle cx="1200.3" cy="947.5" r="7.4"/>
<circle cx="1200.1" cy="947.5" r="7.4"/>
<circle cx="1199.9" cy="947.5" r="7.4"/>
<circle cx="1199.6" cy="947.5" r="7.4"/>
<circle cx="1199.4" cy="947.5" r="7.4"/>
<circle cx="1199.2" cy="947.5" r="7.4"/>
</g>
<path class="ln c" stroke="#000" d="M1199 947 L1203 945.1 L1207 943.1 L1211 941.2 L1215 939.3 L1219 937.4 L1223 935.5 L1227 933.6 L1231 931.7 L1235 929.9 L1239 928 L1243 926.1 L1247 924.2 L1251 922.4 L1255 920.5 L1259 918.7 L1263 916.8 L1267 915 L1271 913.1 L1275 911.3 L1279 909.4 L1283 907.6 L1287 905.7 L1291 903.9 L1295 902.1 L1299 900.2 L1303 898.4 L1307 896.6 L1311 894.7 L1315 892.9 L1319 891.1 L1323 889.2 L1327 887.4 L1331 885.5 L1335 883.7 L1339 881.8 L1343 880 L1347 878.2 L1351 876.3 L1355 874.4 L1359 872.6 L1363 870.7 L1367 868.9 L1371 867 L1375 865.1 L1379 863.2 L1383 861.4 L1387 859.5 L1391 857.6 L1395 855.7 L1399 853.8 L1403 851.8 L1407 849.9 L1411 848 L1415 846.1 L1419 844.1 L1423 842.2 L1427 840.2 L1431 838.2 L1435 836.2 L1439 834.2 L1443 832.2 L1447 830.2 L1451 828.2 L1455 826.1 L1459 824 L1463 821.9 L1467 819.8 L1471 817.7 L1475 815.6 L1479 813.4 L1483 811.3 L1487 809.1 L1491 806.9 L1495 804.6 L1499 802.4 L1503 800.1 L1507 797.8 L1511 795.5 L1515 793.1 L1519 790.8 L1523 788.4 L1527 786 L1531 783.5 L1535 781.1 L1539 778.6 L1543 776 L1547 773.5 L1551 770.9 L1555 768.3 L1559 765.7 L1563 763 L1567 760.3 L1571 757.5 L1575 754.8 L1579 752 L1583 749.2 L1587 746.3 L1591 743.4 L1595 740.5 L1599 737.5 L1603 734.5 L1607 731.5 L1611 728.4 L1615 725.3 L1619 722.2 L1623 719 L1627 715.8 L1631 712.6 L1635 709.3 L1639 706 L1643 702.7 L1647 699.3 L1651 695.9 L1655 692.5 L1659 689 L1663 685.5 L1667 682 L1671 678.5 L1675 674.9 L1679 671.2 L1683 667.6 L1687 663.9 L1691 660.1 L1695 656.3 L1699 652.5 L1703 648.7 L1707 644.8 L1711 640.8 L1715 636.8 L1719 632.8 L1723 628.8 L1727 624.7 L1731 620.6 L1735 616.4 L1739 612.3 L1743 608.1 L1747 603.8 L1751 599.6 L1755 595.3 L1759 591 L1763 586.7 L1767 582.4 L1771 578 L1775 573.6 L1779 569.2 L1783 564.8 L1787 560.4 L1791 555.9 L1795 551.4 L1799 546.9 L1803 542.3 L1807 537.7 L1811 533.1 L1815 528.4 L1819 523.7 L1823 519 L1827 514.2 L1831 509.4 L1835 504.6 L1839 499.7 L1843 494.7 L1847 489.8 L1851 484.8 L1855 479.7 L1859 474.6 L1863 469.4 L1867 464.2 L1871 459 L1875 453.7 L1879 448.3 L1883 442.9 L1887 437.5 L1891 432 L1895 426.4 L1899 420.8 L1903 415.1 L1907 409.3 L1911 403.5 L1915 397.7 L1919 391.7 L1923 385.7 L1927 379.7 L1931 373.6 L1935 367.5 L1939 361.3 L1943 355 L1947 348.7 L1951 342.4 L1955 336.1 L1959 329.7 L1963 323.2 L1967 316.8 L1971 310.3 L1975 303.8 L1979 297.2 L1983 290.6 L1987 284.1 L1991 277.5 L1995 270.8 L1999 264.2 L2003 257.6 L2007 250.9"/>
<path class="ln c" stroke="#000" d="M1199 947.2 L1203 945.7 L1207 944.2 L1211 942.7 L1215 941.2 L1219 939.7 L1223 938.2 L1227 936.7 L1231 935.2 L1235 933.7 L1239 932.2 L1243 930.7 L1247 929.2 L1251 927.8 L1255 926.3 L1259 924.8 L1263 923.3 L1267 921.8 L1271 920.3 L1275 918.8 L1279 917.3 L1283 915.8 L1287 914.3 L1291 912.8 L1295 911.3 L1299 909.8 L1303 908.3 L1307 906.9 L1311 905.4 L1315 903.9 L1319 902.4 L1323 900.9 L1327 899.4 L1331 897.9 L1335 896.4 L1339 895 L1343 893.5 L1347 892 L1351 890.5 L1355 889 L1359 887.5 L1363 886.1 L1367 884.6 L1371 883.1 L1375 881.6 L1379 880.1 L1383 878.7 L1387 877.2 L1391 875.7 L1395 874.2 L1399 872.8 L1403 871.3 L1407 869.8 L1411 868.4 L1415 866.9 L1419 865.4 L1423 864 L1427 862.5 L1431 861 L1435 859.6 L1439 858.1 L1443 856.6 L1447 855.2 L1451 853.7 L1455 852.3 L1459 850.8 L1463 849.4 L1467 847.9 L1471 846.5 L1475 845 L1479 843.6 L1483 842.1 L1487 840.7 L1491 839.2 L1495 837.8 L1499 836.3 L1503 834.9 L1507 833.5 L1511 832 L1515 830.6 L1519 829.2 L1523 827.7 L1527 826.3 L1531 824.9 L1535 823.5 L1539 822 L1543 820.6 L1547 819.2 L1551 817.8 L1555 816.4 L1559 815 L1563 813.5 L1567 812.1 L1571 810.7 L1575 809.3 L1579 807.9 L1583 806.5 L1587 805.1 L1591 803.7 L1595 802.3 L1599 800.9 L1603 799.6 L1607 798.2 L1611 796.8 L1615 795.4 L1619 794 L1623 792.6 L1627 791.3 L1631 789.9 L1635 788.5 L1639 787.2 L1643 785.8 L1647 784.4 L1651 783.1 L1655 781.7 L1659 780.3 L1663 779 L1667 777.6 L1671 776.3 L1675 775 L1679 773.6 L1683 772.3 L1687 770.9 L1691 769.6 L1695 768.3 L1699 766.9 L1703 765.6 L1707 764.3 L1711 763 L1715 761.6 L1719 760.3 L1723 759 L1727 757.7 L1731 756.4 L1735 755.1 L1739 753.8 L1743 752.5 L1747 751.2 L1751 749.9 L1755 748.6 L1759 747.4 L1763 746.1 L1767 744.8 L1771 743.5 L1775 742.3 L1779 741 L1783 739.7 L1787 738.5 L1791 737.2 L1795 735.9 L1799 734.7 L1803 733.4 L1807 732.2 L1811 731 L1815 729.7 L1819 728.5 L1823 727.3 L1827 726 L1831 724.8 L1835 723.6 L1839 722.4 L1843 721.2 L1847 720 L1851 718.8 L1855 717.6 L1859 716.4 L1863 715.2 L1867 714 L1871 712.8 L1875 711.6 L1879 710.4 L1883 709.2 L1887 708.1 L1891 706.9 L1895 705.8 L1899 704.6 L1903 703.4 L1907 702.3 L1911 701.1 L1915 700 L1919 698.9 L1923 697.7 L1927 696.6 L1931 695.5 L1935 694.4 L1939 693.2 L1943 692.1 L1947 691 L1951 689.9 L1955 688.8 L1959 687.7 L1963 686.6 L1967 685.5 L1971 684.5 L1975 683.4 L1979 682.3 L1983 681.2 L1987 680.2 L1991 679.1 L1995 678.1 L1999 677 L2003 676 L2007 674.9"/>
<path class="ln d" stroke="#ff3626" d="M1168.04 346.5 L2000.0 346.5"/>
<path class="ln d" stroke="#2f9aff" d="M1168.04 494.7 L2000.0 494.7"/>
<path class="ln" stroke="#df536b" d="M1163 962.6 L2005 609.5"/>
</g>
<rect class="ln" stroke="#000" x="1168.04" y="52.14" width="832" height="929.8"/>
<path class="ln" stroke="#000" d="M1199 981.9 V998.6 M1455.7 981.9 V998.6 M1712.3 981.9 V998.6 M1969 981.9 V998.6 M1168.04 947.5 H1151.1 M1168.04 839.9 H1151.1 M1168.04 732.2 H1151.1 M1168.04 624.6 H1151.1 M1168.04 517 H1151.1 M1168.04 409.4 H1151.1 M1168.04 301.8 H1151.1 M1168.04 194.1 H1151.1 M1168.04 86.5 H1151.1"/>
<text class="t" text-anchor="middle" x="1198.6" y="1032.9">0</text>
<text class="t" text-anchor="middle" x="1455.3" y="1032.9">1</text>
<text class="t" text-anchor="middle" x="1711.9" y="1032.9">2</text>
<text class="t" text-anchor="middle" x="1968.6" y="1032.9">3</text>
<text class="t" text-anchor="middle" transform="translate(1141.2 947.5) rotate(-90)">0</text>
<text class="t" text-anchor="middle" transform="translate(1141.2 839.9) rotate(-90)">1</text>
<text class="t" text-anchor="middle" transform="translate(1141.2 732.2) rotate(-90)">2</text>
<text class="t" text-anchor="middle" transform="translate(1141.2 624.6) rotate(-90)">3</text>
<text class="t" text-anchor="middle" transform="translate(1141.2 517) rotate(-90)">4</text>
<text class="t" text-anchor="middle" transform="translate(1141.2 409.4) rotate(-90)">5</text>
<text class="t" text-anchor="middle" transform="translate(1141.2 301.8) rotate(-90)">6</text>
<text class="t" text-anchor="middle" transform="translate(1141.2 194.1) rotate(-90)">7</text>
<text class="t" text-anchor="middle" transform="translate(1141.2 86.5) rotate(-90)">8</text>
<text class="t" text-anchor="middle" x="1583" y="1091.2">–log10(Expected)</text>
<text class="t" text-anchor="middle" transform="translate(1082.1 517.7) rotate(-90)">–log10(Observed)</text>
<text class="b" text-anchor="middle" transform="translate(1584.1 32.7) scale(0.957 1.025)">NERs</text>
</svg></body></html>
